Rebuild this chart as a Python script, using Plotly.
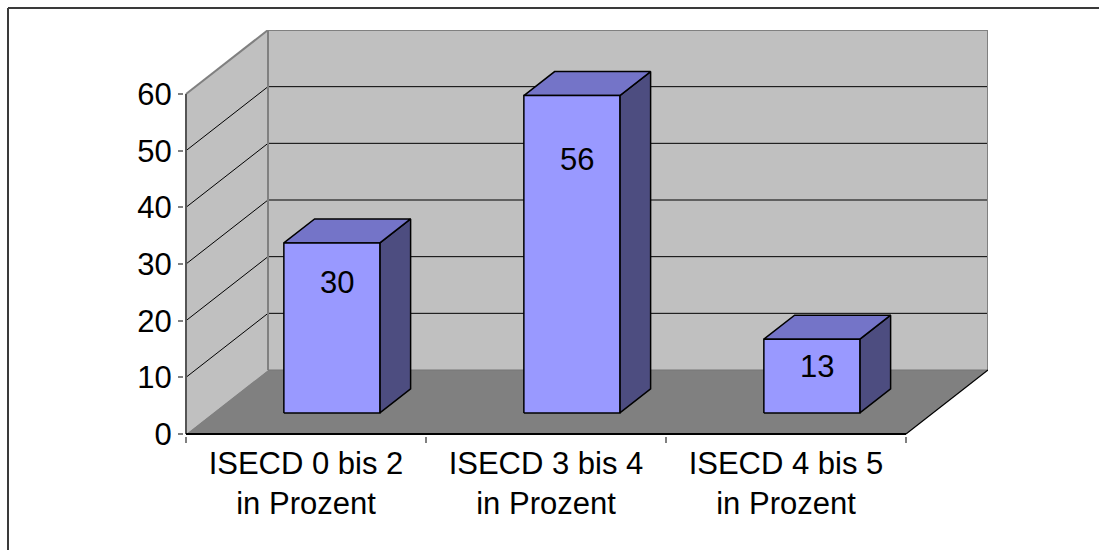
import plotly.graph_objects as go

# ---- data ----
categories = ["ISECD 0 bis 2<br>in Prozent", "ISECD 3 bis 4<br>in Prozent", "ISECD 4 bis 5<br>in Prozent"]
values = [30, 56, 13]
y_ticks = [0, 10, 20, 30, 40, 50, 60]
Y_MAX = 60

# ---- layout geometry (pixels) ----
FIG_W, FIG_H = 1099, 550
ORIGIN_X, ORIGIN_Y = 186, 434        # front-left corner of the floor
PX_CAT = 240                          # width of one category on the front plane
PX_UNIT = 340 / 60                    # pixels per value unit
DEPTH_PX_X, DEPTH_PX_Y = 82, 64       # oblique depth offset of the back wall
PAD = 2                               # keeps edge lines from being clipped

DX = DEPTH_PX_X / PX_CAT
DY = DEPTH_PX_Y / PX_UNIT
PAD_X = PAD / PX_CAT
PAD_Y = PAD / PX_UNIT
N = len(categories)

x_range = [-PAD_X, N + DX]
y_range = [-PAD_Y, Y_MAX + DY]
plot_w = (x_range[1] - x_range[0]) * PX_CAT
plot_h = (y_range[1] - y_range[0]) * PX_UNIT
m_l = ORIGIN_X - PAD
m_b = FIG_H - ORIGIN_Y - PAD
m_r = FIG_W - m_l - plot_w
m_t = FIG_H - m_b - plot_h

# bar placement inside a category (front face, category units / depth fraction)
BAR_LEFT, BAR_W = 0.295, 0.4
BAR_D0, BAR_D1 = 0.33, 0.705

# styles
WALL = "#C0C0C0"
FLOOR = "#808080"
EDGE = "#808080"
FRONT = "#9999FF"
TOP = "#7474C8"
SIDE = "#4D4D80"
FONT = "Liberation Sans, Arial, sans-serif"
FS = 31
LABEL_DROP = [40, 64, 27]   # label offset below the bar top, px


def P(c, v, d):
    """Oblique projection of (category, value, depth) into axis coordinates."""
    return c + d * DX, v + d * DY


fig = go.Figure()


def poly(pts, fill, line="black", width=1.5):
    xs = [p[0] for p in pts] + [pts[0][0]]
    ys = [p[1] for p in pts] + [pts[0][1]]
    fig.add_trace(go.Scatter(x=xs, y=ys, mode="lines", fill="toself", fillcolor=fill,
                             line=dict(color=line, width=width), hoverinfo="skip",
                             showlegend=False))


def seg(a, b, color="black", width=1):
    fig.add_trace(go.Scatter(x=[a[0], b[0]], y=[a[1], b[1]], mode="lines",
                             line=dict(color=color, width=width), hoverinfo="skip",
                             showlegend=False))


# walls and floor
poly([P(0, 0, 0), P(0, Y_MAX, 0), P(0, Y_MAX, 1), P(0, 0, 1)], WALL, EDGE, 0.01)
poly([P(0, 0, 1), P(0, Y_MAX, 1), P(N, Y_MAX, 1), P(N, 0, 1)], WALL, EDGE, 0.01)
poly([P(0, 0, 0), P(N, 0, 0), P(N, 0, 1), P(0, 0, 1)], FLOOR, FLOOR, 0.01)

# gridlines on side and back wall
for v in y_ticks[1:-1]:
    seg(P(0, v, 0), P(0, v, 1), "black", 1)
    seg(P(0, v, 1), P(N, v, 1), "black", 1)

# wall edges
seg(P(0, Y_MAX, 0), P(0, Y_MAX, 1), EDGE, 2)
seg(P(0, Y_MAX, 1), P(N, Y_MAX, 1), EDGE, 2)
seg(P(N, Y_MAX, 1), P(N, 0, 1), EDGE, 2)
seg(P(0, 0, 1), P(0, Y_MAX, 1), EDGE, 2)
seg(P(0, 0, 1), P(N, 0, 1), "#777777", 1)
seg(P(N, 0, 0), P(N, 0, 1), "black", 1.2)

# bars
for i, v in enumerate(values):
    x0 = i + BAR_LEFT
    x1 = x0 + BAR_W
    poly([P(x1, 0, BAR_D0), P(x1, v, BAR_D0), P(x1, v, BAR_D1), P(x1, 0, BAR_D1)], SIDE)
    poly([P(x0, v, BAR_D0), P(x1, v, BAR_D0), P(x1, v, BAR_D1), P(x0, v, BAR_D1)], TOP)
    poly([P(x0, 0, BAR_D0), P(x1, 0, BAR_D0), P(x1, v, BAR_D0), P(x0, v, BAR_D0)], FRONT)
    lx, ly = P(x0 + BAR_W / 2, v, BAR_D0)
    fig.add_annotation(x=lx, y=ly, text=str(v), showarrow=False, xshift=5,
                       yshift=-LABEL_DROP[i], font=dict(family=FONT, size=FS, color="black"))

# front axis lines
seg(P(0, 0, 0), P(0, Y_MAX, 0), "#555555", 2)
seg(P(0, 0, 0), P(N, 0, 0), "black", 2)

# outer chart frame: top and left edges, ending at the page edges
fx0 = (8 - m_l) / plot_w
fx_end = (FIG_W - m_l) / plot_w
fy1 = 1 + (m_t - 8) / plot_h
fy_end = -m_b / plot_h
fig.add_shape(type="line", xref="paper", yref="paper", x0=fx0, x1=fx_end, y0=fy1, y1=fy1,
              line=dict(color="#3a3a3a", width=2), layer="above")
fig.add_shape(type="line", xref="paper", yref="paper", x0=fx0, x1=fx0, y0=fy_end, y1=fy1,
              line=dict(color="#3a3a3a", width=2), layer="above")

fig.update_layout(
    width=FIG_W, height=FIG_H,
    margin=dict(l=m_l, r=m_r, t=m_t, b=m_b, pad=0),
    paper_bgcolor="white", plot_bgcolor="white",
    showlegend=False,
    font=dict(family=FONT, size=FS, color="black"),
    xaxis=dict(range=x_range, showgrid=False, zeroline=False, showline=False,
               tickvals=[i + 0.5 for i in range(N)], ticktext=categories, ticks="",
               ticklabelstandoff=6,
               tickfont=dict(family=FONT, size=FS, color="black"),
               minor=dict(tickmode="array", tickvals=list(range(N + 1)), ticks="outside",
                          ticklen=6, tickwidth=1.5, tickcolor="#808080"),
               fixedrange=True),
    yaxis=dict(range=y_range, showgrid=False, zeroline=False, showline=False,
               tickvals=y_ticks, ticks="outside", ticklen=5, tickwidth=1.5,
               tickcolor="#808080", tickfont=dict(family=FONT, size=FS, color="black"),
               fixedrange=True),
)

fig.write_html("out.html")
